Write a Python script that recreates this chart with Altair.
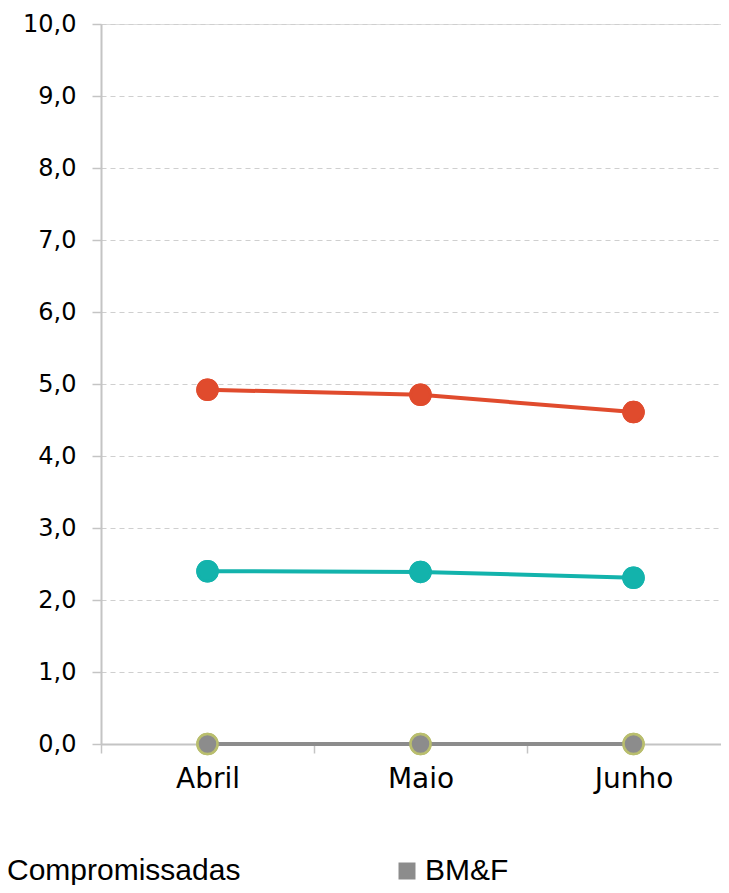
import altair as alt
import pandas as pd

months = ["Abril", "Maio", "Junho"]
series_names = ["Compromissadas", "Títulos Públicos", "BM&F"]
compromissadas = [4.92, 4.85, 4.61]
titulos = [2.40, 2.39, 2.31]
bmf = [0.0, 0.0, 0.0]
colors = ["#E04B2D", "#13B3AC", "#8C8C8C"]
stroke_colors = ["#E04B2D", "#13B3AC", "#B9BE6E"]
legend_values = ["Compromissadas", "BM&F"]
y_ticks = [0, 1, 2, 3, 4, 5, 6, 7, 8, 9, 10]

rows = []
for name, vals in zip(series_names, [compromissadas, titulos, bmf]):
    for m, v in zip(months, vals):
        rows.append({"mes": m, "serie": name, "contorno": name, "valor": v})
df = pd.DataFrame(rows)

FONT = "Liberation Sans"
AXFONT = "DejaVu Sans"

legend = alt.Legend(
    title=None,
    orient="none",
    legendX=-127,
    legendY=832,
    direction="horizontal",
    values=legend_values,
    symbolType="square",
    symbolSize=289,
    symbolStrokeWidth=0,
    labelFont=FONT,
    labelFontSize=30,
    labelColor="#000000",
    labelLimit=500,
    labelOffset=3,
    columnPadding=151,
    padding=0,
)

scale_c = alt.Scale(domain=series_names, range=colors)

x = alt.X(
    "mes:N",
    sort=months,
    scale=alt.Scale(type="band", range=[0, 639], paddingInner=0, paddingOuter=0),
    axis=alt.Axis(
        title=None,
        labelAngle=0,
        labelFont=AXFONT,
        labelFontSize=28,
        labelColor="#000000",
        labelPadding=12,
        tickSize=9,
        tickColor="#c4c4c4",
        tickWidth=1.5,
        tickBand="extent",
        bandPosition=0,
        domainColor="#c4c4c4",
        domainWidth=2,
        grid=False,
    ),
)
y = alt.Y(
    "valor:Q",
    scale=alt.Scale(domain=[0, 10], nice=False, zero=True),
    axis=alt.Axis(
        title=None,
        values=y_ticks,
        labelExpr="replace(format(datum.value, '.1f'), '.', ',')",
        labelFont=AXFONT,
        labelFontSize=24,
        labelColor="#000000",
        labelPadding=16,
        tickSize=9,
        tickColor="#c4c4c4",
        tickWidth=1.5,
        domainColor="#c4c4c4",
        domainWidth=2,
        grid=True,
        gridColor="#cfcfcf",
        gridDash=[5, 4],
        gridWidth=1,
    ),
)

lines = alt.Chart(df).mark_line(strokeWidth=4).encode(
    x=x, y=y, color=alt.Color("serie:N", scale=scale_c, legend=legend), detail="serie:N"
)
points = alt.Chart(df).mark_point(filled=True, size=400, opacity=1, strokeWidth=2.5).encode(
    x=x,
    y=y,
    color=alt.Color("serie:N", scale=scale_c, legend=legend),
    stroke=alt.Stroke("contorno:N", scale=alt.Scale(domain=series_names, range=stroke_colors), legend=None),
)

chart = alt.layer(points, lines, points).properties(
    width=620,
    height=720,
    autosize=alt.AutoSizeParams(type="none"),
    padding={"left": 93, "top": 16, "right": 0, "bottom": 141},
).configure_view(stroke=None).configure(background="#ffffff")

chart.save("out.html", embed_options={"renderer": "svg", "actions": False})
